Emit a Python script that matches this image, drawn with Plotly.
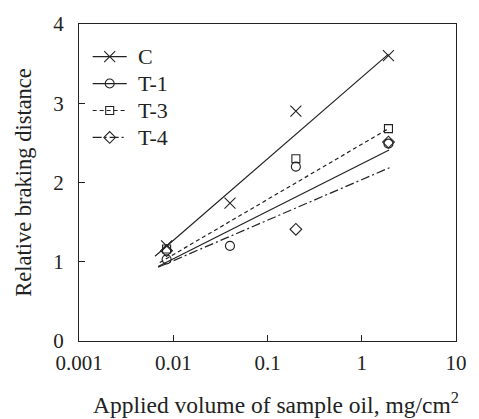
import plotly.graph_objects as go

# Applied oil volume (mg/cm^2) at which braking distance was measured
volume = [0.0085, 0.04, 0.2, 1.92]

# Relative braking distance per sample oil (None = not measured)
c_vals = [1.2, 1.74, 2.9, 3.6]
t1_vals = [1.03, 1.2, 2.2, 2.49]
t3_vals = [1.16, None, 2.3, 2.68]
t4_vals = [1.14, None, 1.41, 2.51]

# Logarithmic trend lines: end points (x, y) for each sample oil
c_fit_x, c_fit_y = [0.0064, 1.92], [1.07, 3.62]
t1_fit_x, t1_fit_y = [0.0069, 1.95], [0.94, 2.41]
t3_fit_x, t3_fit_y = [0.0072, 1.92], [0.99, 2.68]
t4_fit_x, t4_fit_y = [0.0069, 2.0], [0.93, 2.19]

x_tick_vals = [0.001, 0.01, 0.1, 1, 10]
x_tick_text = ["0.001", "0.01", "0.1", "1", "10"]
y_tick_vals = [0, 1, 2, 3, 4]

FONT = "Liberation Serif"
BLACK = "#222222"

W, H = 479, 419
ML, MR, MT, MB = 79, 13, 20, 78

series = [
    ("C", c_vals, c_fit_x, c_fit_y, "x-thin-open", 11, "solid"),
    ("T-1", t1_vals, t1_fit_x, t1_fit_y, "circle-open", 9, "solid"),
    ("T-3", t3_vals, t3_fit_x, t3_fit_y, "square-open", 8, "4px,3px"),
    ("T-4", t4_vals, t4_fit_x, t4_fit_y, "diamond-open", 9, "9px,3px,2px,3px"),
]

fig = go.Figure()
annotations = []

# Legend key layout, in pixels on a hidden overlay axis
KEY_X0, KEY_X1, KEY_TEXT_X = 93, 128, 137
KEY_Y0, KEY_STEP = 53, 27.3

for i, (name, vals, fx, fy, symbol, size, dash) in enumerate(series):
    marker = dict(symbol=symbol, size=size, color=BLACK,
                  line=dict(color=BLACK, width=1.1))
    line = dict(color=BLACK, width=1.2, dash=dash)
    # trend line
    fig.add_trace(go.Scatter(x=fx, y=fy, mode="lines", showlegend=False,
                             line=line, hoverinfo="skip"))
    # measured points
    fig.add_trace(go.Scatter(x=volume, y=vals, mode="markers", showlegend=False,
                             marker=marker, name=name))

    # legend key: line sample with the marker in its middle, then the label
    ky = KEY_Y0 + KEY_STEP * i
    fig.add_trace(go.Scatter(x=[KEY_X0, KEY_X1], y=[ky, ky], mode="lines",
                             line=line, xaxis="x2", yaxis="y2",
                             showlegend=False, hoverinfo="skip"))
    fig.add_trace(go.Scatter(x=[(KEY_X0 + KEY_X1) / 2], y=[ky], mode="markers",
                             marker=marker, xaxis="x2", yaxis="y2",
                             showlegend=False, hoverinfo="skip"))
    annotations.append(dict(text=name, x=KEY_TEXT_X, y=ky, xref="x2", yref="y2",
                            xanchor="left", yanchor="middle", showarrow=False,
                            font=dict(size=22, family=FONT, color=BLACK)))

# x-axis title
annotations.append(dict(text="Applied volume of sample oil, mg/cm<sup>2</sup>",
                        x=0.5, y=0, xref="paper", yref="paper",
                        xanchor="center", yanchor="middle", showarrow=False,
                        xshift=8, yshift=-62,
                        font=dict(size=23.5, family=FONT, color=BLACK)))

fig.update_layout(
    width=W, height=H,
    margin=dict(l=ML, r=MR, t=MT, b=MB),
    paper_bgcolor="white", plot_bgcolor="white",
    font=dict(family=FONT, size=21, color=BLACK),
    showlegend=False,
    annotations=annotations,
    xaxis=dict(
        type="log", range=[-3, 1],
        tickvals=x_tick_vals, ticktext=x_tick_text,
        ticks="inside", ticklen=6, tickcolor=BLACK, tickwidth=1,
        showline=True, linecolor=BLACK, linewidth=1.2, mirror=True,
        showgrid=False, zeroline=False,
        tickfont=dict(size=21, family=FONT), ticklabelstandoff=3,
    ),
    yaxis=dict(
        range=[0, 4], tickvals=y_tick_vals,
        ticks="inside", ticklen=6, tickcolor=BLACK, tickwidth=1,
        showline=True, linecolor=BLACK, linewidth=1.2, mirror=True,
        showgrid=False, zeroline=False,
        tickfont=dict(size=21, family=FONT), ticklabelstandoff=10,
        title=dict(text="Relative braking distance",
                   font=dict(size=22.5, family=FONT), standoff=15),
    ),
    # pixel-space overlay used for the legend keys
    xaxis2=dict(overlaying="x", anchor="y2", range=[ML, W - MR], visible=False),
    yaxis2=dict(overlaying="y", anchor="x2", range=[H - MB, MT], visible=False),
)

fig.write_html("out.html")
